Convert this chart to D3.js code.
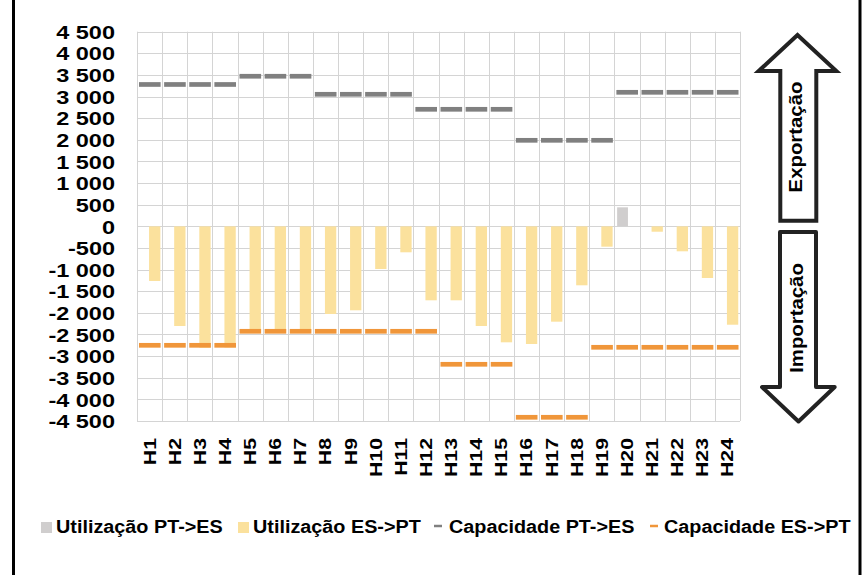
<!DOCTYPE html>
<html>
<head>
<meta charset="utf-8">
<script src="https://cdn.jsdelivr.net/npm/d3@7"></script>
<style>
  html, body { margin: 0; padding: 0; background: #fff; }
  svg { display: block; font-family: "Liberation Sans", Arial, sans-serif; }
</style>
</head>
<body>
<svg id="chart" width="865" height="575"></svg>
<script>
// ---------- DATA ----------
const categories = ["H1","H2","H3","H4","H5","H6","H7","H8","H9","H10","H11","H12",
                    "H13","H14","H15","H16","H17","H18","H19","H20","H21","H22","H23","H24"];
const utilPTES = [0,0,0,0,0,0,0,0,0,0,0,0,0,0,0,0,0,0,0,440,0,0,0,0];
const utilESPT = [-1263,-2304,-2805,-2800,-2450,-2450,-2450,-2026,-1941,-986,-600,-1710,
                  -1710,-2304,-2681,-2720,-2204,-1363,-470,0,-124,-577,-1194,-2274];
const capPTES  = [3280,3280,3280,3280,3470,3470,3470,3053,3053,3053,3053,2706,
                  2706,2706,2706,1989,1989,1989,1989,3099,3099,3099,3099,3099];
const capESPT  = [-2750,-2750,-2750,-2750,-2426,-2426,-2426,-2426,-2426,-2426,-2426,-2426,
                  -3189,-3189,-3189,-4414,-4414,-4414,-2796,-2796,-2796,-2796,-2796,-2796];
const yTicks = [4500,4000,3500,3000,2500,2000,1500,1000,500,0,-500,-1000,-1500,-2000,
                -2500,-3000,-3500,-4000,-4500];
const seriesNames = ["Utilização PT->ES","Utilização ES->PT","Capacidade PT->ES","Capacidade ES->PT"];
const arrowLabels = ["Exportação","Importação"];

// ---------- STYLE ----------
const C_GRAYBAR = "#D0CECE", C_YELLOW = "#FBE19D", C_GRAYCAP = "#808080", C_ORANGE = "#F0963A";

const svg = d3.select("#chart");
svg.append("rect").attr("width",865).attr("height",575).attr("fill","#fff");

const x = d3.scaleBand().domain(categories).range([137, 740]).padding(0);
const y = d3.scaleLinear().domain([-4500, 4500]).range([421, 31.7]);
const bw = x.bandwidth();

function stretch(sel, f) {
  sel.each(function() {
    const w = this.getComputedTextLength();
    this.setAttribute("textLength", w * f);
    this.setAttribute("lengthAdjust", "spacingAndGlyphs");
  });
}

// gridlines
const grid = svg.append("g");
grid.selectAll("line.h").data(yTicks).join("line")
  .attr("x1", 137).attr("x2", 740)
  .attr("y1", d => Math.round(y(d)) + 0.5).attr("y2", d => Math.round(y(d)) + 0.5)
  .attr("stroke", "#d4d4d4").attr("stroke-width", 1);
grid.selectAll("line.v").data(categories.concat(["__end"])).join("line")
  .attr("x1", (d,i) => Math.round(137 + i*bw) + 0.5).attr("x2", (d,i) => Math.round(137 + i*bw) + 0.5)
  .attr("y1", y(4500)).attr("y2", y(-4500))
  .attr("stroke", "#d4d4d4").attr("stroke-width", 1);

// bars
svg.append("g").selectAll("rect").data(categories).join("rect")
  .attr("x", d => x(d) + 0.11*bw).attr("width", 0.43*bw)
  .attr("y", (d,i) => y(Math.max(0, utilPTES[i])))
  .attr("height", (d,i) => Math.abs(y(utilPTES[i]) - y(0)))
  .attr("fill", C_GRAYBAR);
svg.append("g").selectAll("rect").data(categories).join("rect")
  .attr("x", d => x(d) + 0.48*bw).attr("width", 0.45*bw)
  .attr("y", (d,i) => y(Math.max(0, utilESPT[i])))
  .attr("height", (d,i) => Math.abs(y(utilESPT[i]) - y(0)))
  .attr("fill", C_YELLOW);

// capacity dashes
function dashes(vals, color) {
  svg.append("g").selectAll("line").data(categories).join("line")
    .attr("x1", d => x(d) + 2).attr("x2", d => x(d) + bw - 1.5)
    .attr("y1", (d,i) => y(vals[i])).attr("y2", (d,i) => y(vals[i]))
    .attr("stroke", color).attr("stroke-width", 4.7);
}
dashes(capPTES, C_GRAYCAP);
dashes(capESPT, C_ORANGE);

// y axis
const loc = d3.formatLocale({decimal: ",", thousands: " ", grouping: [3], currency: ["", ""], minus: "-"});
const fmt = loc.format(",d");
const yAxis = svg.append("g").attr("transform", "translate(137,0)")
  .call(d3.axisLeft(y).tickValues(yTicks).tickFormat(fmt).tickSize(0).tickPadding(22));
yAxis.select(".domain").remove();
yAxis.selectAll("text")
  .attr("font-family", "'Liberation Sans', Arial, sans-serif")
  .attr("font-size", 18.5).attr("font-weight", "bold").attr("fill", "#000")
  .attr("dy", "0.36em");
stretch(yAxis.selectAll("text"), 1.27);

// x axis
const xAxis = svg.append("g").attr("transform", "translate(0,421)")
  .call(d3.axisBottom(x).tickSize(0));
xAxis.select(".domain").remove();
xAxis.selectAll("text")
  .attr("font-family", "'Liberation Sans', Arial, sans-serif")
  .attr("font-size", 17).attr("font-weight", "bold").attr("fill", "#000")
  .attr("transform", "rotate(-90)")
  .attr("text-anchor", "end")
  .attr("x", -17).attr("y", 6).attr("dy", 0);
stretch(xAxis.selectAll("text"), 1.25);

// arrows
const up = d3.path();
up.moveTo(797.5, 35); up.lineTo(836.3, 71); up.lineTo(816.3, 71); up.lineTo(816.3, 220.7);
up.lineTo(780.3, 220.7); up.lineTo(780.3, 71); up.lineTo(758.7, 71); up.closePath();
svg.append("path").attr("d", up.toString()).attr("fill", "#fff")
  .attr("stroke", "#222").attr("stroke-width", 4).attr("stroke-linejoin", "miter");

const dn = d3.path();
dn.moveTo(780, 232); dn.lineTo(816, 232); dn.lineTo(816, 387); dn.lineTo(834.7, 387);
dn.lineTo(798.5, 421.5); dn.lineTo(762, 387); dn.lineTo(780, 387); dn.closePath();
svg.append("path").attr("d", dn.toString()).attr("fill", "#fff")
  .attr("stroke", "#222").attr("stroke-width", 4).attr("stroke-linejoin", "round");

const aText = svg.append("g").attr("font-family", "'Liberation Sans', Arial, sans-serif")
  .attr("font-size", 18).attr("font-weight", "bold").attr("fill", "#000");
aText.append("text").attr("transform", "translate(802,137) rotate(-90)")
  .attr("text-anchor", "middle").text(arrowLabels[0]);
aText.append("text").attr("transform", "translate(803,318) rotate(-90)")
  .attr("text-anchor", "middle").text(arrowLabels[1]);
stretch(aText.selectAll("text"), 1.13);

// legend
const leg = svg.append("g").attr("font-family", "'Liberation Sans', Arial, sans-serif")
  .attr("font-size", 18).attr("font-weight", "bold").attr("fill", "#000");
const legItems = [
  {name: seriesNames[0], type: "rect", color: C_GRAYBAR, sx: 41, tx: 56},
  {name: seriesNames[1], type: "rect", color: C_YELLOW, sx: 238, tx: 253},
  {name: seriesNames[2], type: "line", color: C_GRAYCAP, sx: 434, tx: 449},
  {name: seriesNames[3], type: "line", color: C_ORANGE, sx: 650, tx: 664}
];
legItems.forEach(it => {
  if (it.type === "rect") {
    leg.append("rect").attr("x", it.sx).attr("y", 522).attr("width", 11).attr("height", 11).attr("fill", it.color);
  } else {
    leg.append("line").attr("x1", it.sx).attr("x2", it.sx + 8).attr("y1", 526).attr("y2", 526)
      .attr("stroke", it.color).attr("stroke-width", 2.5);
  }
  leg.append("text").attr("x", it.tx).attr("y", 533).text(it.name);
});
stretch(leg.selectAll("text"), 1.10);

// frame borders
svg.append("line").attr("x1", 13.5).attr("x2", 13.5).attr("y1", 0).attr("y2", 575)
  .attr("stroke", "#000").attr("stroke-width", 3);
svg.append("line").attr("x1", 860).attr("x2", 860).attr("y1", 0).attr("y2", 575)
  .attr("stroke", "#000").attr("stroke-width", 3);
</script>
</body>
</html>
